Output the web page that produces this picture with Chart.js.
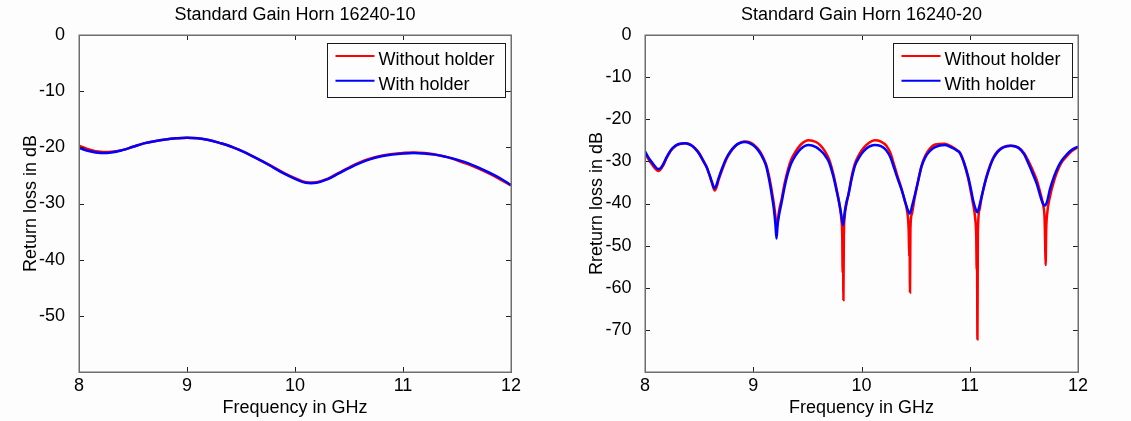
<!DOCTYPE html>
<html><head><meta charset="utf-8">
<script src="https://cdn.jsdelivr.net/npm/chart.js@4.4.1/dist/chart.umd.min.js"></script>
<style>
html,body{margin:0;padding:0;background:#fcfdfc;}
#wrap{position:relative;width:1131px;height:421px;overflow:hidden;background:#fcfdfc;}
.box{position:absolute;top:0;height:421px;}
#b1{left:0;width:565px;}
#b2{left:565px;width:566px;}
canvas{display:block;}
</style></head><body>
<div id="wrap">
<div class="box" id="b1"><canvas id="c1" width="565" height="421"></canvas></div>
<div class="box" id="b2"><canvas id="c2" width="566" height="421"></canvas></div>
</div>
<script>
// ---------- DATA ----------
const titleLeft = 'Standard Gain Horn 16240-10';
const titleRight = 'Standard Gain Horn 16240-20';
const xLabel = 'Frequency in GHz';
const yLabelLeft = 'Return loss in dB';
const yLabelRight = 'Rreturn loss in dB';
const seriesNames = ['Without holder', 'With holder'];

const freq10 = [8.0,8.1,8.2,8.3,8.4,8.5,8.6,8.7,8.8,8.9,9.0,9.1,9.2,9.3,9.4,9.5,9.6,9.7,9.8,9.9,10.0,10.1,10.2,10.3,10.4,10.5,10.6,10.7,10.8,10.9,11.0,11.1,11.2,11.3,11.4,11.5,11.6,11.7,11.8,11.9,12.0];
const without10 = [-19.7,-20.4,-20.8,-20.8,-20.5,-19.9,-19.3,-18.9,-18.6,-18.4,-18.3,-18.4,-18.7,-19.2,-19.8,-20.6,-21.5,-22.5,-23.5,-24.6,-25.5,-26.2,-26.2,-25.6,-24.6,-23.6,-22.7,-22.0,-21.5,-21.2,-21.0,-20.9,-21.0,-21.3,-21.7,-22.3,-23.0,-23.8,-24.7,-25.7,-26.8];
const with10 = [-20.1,-20.7,-21.0,-20.9,-20.5,-19.9,-19.3,-18.9,-18.6,-18.4,-18.3,-18.4,-18.7,-19.2,-19.8,-20.6,-21.5,-22.5,-23.6,-24.7,-25.6,-26.3,-26.3,-25.7,-24.7,-23.7,-22.8,-22.1,-21.6,-21.3,-21.1,-21.0,-21.1,-21.3,-21.7,-22.2,-22.8,-23.6,-24.5,-25.5,-26.7];

const freq20With = [8.00,8.03,8.06,8.09,8.12,8.14,8.17,8.20,8.24,8.28,8.32,8.37,8.42,8.46,8.50,8.54,8.57,8.60,8.62,8.64,8.66,8.68,8.71,8.75,8.79,8.83,8.87,8.92,8.97,9.02,9.06,9.09,9.12,9.15,9.17,9.19,9.205,9.215,9.225,9.24,9.26,9.29,9.32,9.35,9.39,9.44,9.51,9.58,9.62,9.66,9.70,9.74,9.77,9.80,9.815,9.83,9.845,9.86,9.88,9.91,9.94,9.98,10.02,10.07,10.12,10.18,10.23,10.27,10.30,10.33,10.37,10.40,10.42,10.446,10.47,10.49,10.52,10.555,10.59,10.63,10.68,10.77,10.84,10.88,10.91,10.95,10.985,11.01,11.03,11.05,11.07,11.09,11.11,11.15,11.19,11.22,11.26,11.31,11.38,11.45,11.50,11.54,11.58,11.62,11.645,11.665,11.68,11.695,11.715,11.74,11.78,11.82,11.855,11.895,11.94,12.00];
const rl20With = [-27.6,-29.0,-30.1,-31.1,-31.8,-31.7,-30.6,-29.0,-27.3,-26.3,-25.8,-25.7,-26.1,-26.9,-28.2,-30.0,-31.4,-33.5,-35.0,-36.4,-35.6,-34.0,-31.8,-29.3,-27.6,-26.4,-25.7,-25.4,-25.7,-26.6,-27.9,-29.3,-31.2,-34.8,-37.8,-41.2,-45.0,-48.3,-45.0,-42.5,-40.0,-36.0,-32.8,-30.5,-28.6,-27.0,-26.1,-26.6,-27.4,-28.5,-30.2,-33.6,-37.0,-40.7,-43.0,-45.1,-42.0,-39.8,-37.8,-34.0,-31.0,-29.0,-27.6,-26.5,-26.1,-26.4,-27.4,-29.2,-31.5,-33.8,-36.7,-39.3,-41.0,-42.4,-40.3,-38.3,-35.0,-31.2,-29.0,-27.6,-26.6,-26.1,-26.8,-27.4,-28.0,-30.5,-33.6,-36.5,-39.1,-41.0,-42.1,-40.5,-38.3,-34.2,-31.0,-29.2,-27.7,-26.7,-26.3,-26.8,-28.2,-30.4,-32.8,-35.4,-37.6,-39.3,-40.2,-40.5,-39.5,-36.7,-33.5,-31.1,-29.6,-28.4,-27.3,-26.5];

const freq20Without = [8.00,8.03,8.06,8.09,8.12,8.14,8.17,8.20,8.24,8.28,8.32,8.37,8.42,8.46,8.50,8.54,8.57,8.60,8.62,8.645,8.665,8.68,8.71,8.75,8.79,8.83,8.87,8.92,8.97,9.02,9.06,9.09,9.12,9.15,9.17,9.19,9.205,9.218,9.23,9.24,9.26,9.29,9.32,9.35,9.39,9.44,9.51,9.58,9.62,9.66,9.70,9.74,9.77,9.80,9.815,9.822,9.826,9.829,9.833,9.837,9.845,9.86,9.88,9.91,9.94,9.98,10.02,10.07,10.12,10.18,10.23,10.27,10.30,10.33,10.37,10.40,10.42,10.436,10.441,10.444,10.448,10.452,10.465,10.49,10.52,10.555,10.59,10.63,10.68,10.77,10.84,10.88,10.91,10.95,10.985,11.01,11.03,11.05,11.06,11.064,11.067,11.071,11.075,11.09,11.11,11.15,11.19,11.22,11.26,11.31,11.38,11.45,11.50,11.54,11.58,11.62,11.645,11.665,11.68,11.692,11.697,11.701,11.706,11.715,11.74,11.78,11.82,11.855,11.895,11.94,12.00];
const rl20Without = [-28.1,-29.4,-30.6,-31.6,-32.3,-32.0,-30.9,-29.2,-27.4,-26.4,-25.9,-25.7,-26.0,-26.8,-28.0,-29.9,-31.4,-33.6,-35.3,-36.9,-35.8,-34.4,-32.2,-29.6,-27.8,-26.5,-25.7,-25.3,-25.5,-26.4,-27.6,-29.0,-30.8,-34.0,-36.8,-40.0,-43.0,-45.8,-43.5,-41.5,-39.2,-35.2,-32.0,-29.6,-27.7,-26.0,-25.0,-25.4,-26.2,-27.5,-29.5,-33.0,-36.6,-40.8,-44.0,-47.5,-56.5,-48.0,-62.9,-48.0,-43.0,-40.3,-37.8,-33.5,-30.5,-28.3,-26.8,-25.6,-25.0,-25.3,-26.3,-28.2,-30.7,-33.3,-36.5,-39.4,-41.6,-46.5,-52.6,-47.0,-61.1,-46.0,-42.5,-38.8,-35.0,-31.0,-28.6,-27.0,-26.0,-25.8,-26.6,-27.3,-28.1,-30.7,-34.0,-37.2,-40.0,-43.5,-48.0,-55.7,-50.0,-72.2,-47.0,-41.5,-38.5,-34.0,-30.8,-29.0,-27.5,-26.6,-26.3,-26.7,-28.0,-29.8,-32.0,-34.5,-36.8,-38.8,-40.6,-44.0,-50.0,-54.6,-46.5,-42.5,-38.5,-34.5,-31.7,-30.0,-28.8,-27.6,-26.6];

const xMin = 8, xMax = 12, xStep = 1;
const yMinLeft = -60, yMinRight = -80, yMax = 0, yStep = 10;
const colorWithout = '#ff0000';
const colorWith = '#0000ff';

// ---------- CHART SETUP ----------
Chart.defaults.font.family = "'Liberation Sans', Arial, Helvetica, sans-serif";
Chart.defaults.color = '#000';

function pts(xs, ys) { return xs.map((x, i) => ({x: x, y: ys[i]})); }

const framePlugin = {
  id: 'matlabFrame',
  afterDatasetsDraw(chart) {
    const {ctx, chartArea: a, scales} = chart;
    const x = scales.x, y = scales.y;
    ctx.save();
    ctx.strokeStyle = '#222';
    ctx.lineWidth = 1;
    ctx.beginPath();
    const tl = 5;
    y.ticks.forEach(t => {
      const py = Math.round(y.getPixelForValue(t.value)) + 0.5;
      ctx.moveTo(a.left, py); ctx.lineTo(a.left + tl, py);
      ctx.moveTo(a.right, py); ctx.lineTo(a.right - tl, py);
    });
    x.ticks.forEach(t => {
      const px = Math.round(x.getPixelForValue(t.value)) + 0.5;
      ctx.moveTo(px, a.bottom); ctx.lineTo(px, a.bottom - tl);
      ctx.moveTo(px, a.top); ctx.lineTo(px, a.top + tl);
    });
    ctx.stroke();
    ctx.strokeStyle = '#6e6e6e';
    ctx.lineWidth = 1.5;
    ctx.strokeRect(Math.round(a.left) + 0.25, Math.round(a.top) + 0.25, Math.round(a.right) - Math.round(a.left), Math.round(a.bottom) - Math.round(a.top));
    // legend box inside the axes (top right)
    const lw = chart.options.plugins.matlabFrame.legendWidth;
    const lh = 54;
    const lx = Math.round(a.right - 6 - lw) + 0.5;
    const ly = Math.round(a.top + 8) + 0.5;
    ctx.fillStyle = '#fcfdfc';
    ctx.fillRect(lx, ly, lw, lh);
    ctx.strokeStyle = '#1a1a1a';
    ctx.lineWidth = 1;
    ctx.strokeRect(lx, ly, lw, lh);
    ctx.font = "18px 'Liberation Sans', Arial, sans-serif";
    ctx.textBaseline = 'alphabetic';
    ctx.textAlign = 'left';
    chart.data.datasets.forEach((ds, i) => {
      const rowY = ly + 12.5 + i * 24.7;
      ctx.strokeStyle = ds.borderColor;
      ctx.lineWidth = 2;
      ctx.beginPath();
      ctx.moveTo(lx + 8, rowY); ctx.lineTo(lx + 47, rowY);
      ctx.stroke();
      ctx.fillStyle = '#000';
      ctx.fillText(ds.label, lx + 51, rowY + 9);
    });
    ctx.restore();
  }
};

function makeChart(canvasId, cfg) {
  const lineOpts = cfg.smooth
    ? {tension: 0.4, cubicInterpolationMode: 'default'}
    : {cubicInterpolationMode: 'monotone'};
  return new Chart(document.getElementById(canvasId), {
    type: 'line',
    data: {
      datasets: [
        Object.assign({label: seriesNames[0], data: cfg.without, borderColor: colorWithout, backgroundColor: colorWithout, borderWidth: 2.5, pointRadius: 0, order: 2, fill: false}, lineOpts),
        Object.assign({label: seriesNames[1], data: cfg.with, borderColor: colorWith, backgroundColor: colorWith, borderWidth: 2.5, pointRadius: 0, order: 1, fill: false}, lineOpts)
      ]
    },
    options: {
      responsive: false,
      animation: false,
      devicePixelRatio: 1,
      layout: {padding: {left: 0, right: cfg.padRight, top: 0, bottom: 0}},
      plugins: {
        legend: {display: false},
        tooltip: {enabled: false},
        title: {display: true, text: cfg.title, fullSize: false, color: '#000',
                font: {size: 18, weight: 'normal'}, padding: {top: 4.7, bottom: 8.7}},
        matlabFrame: {legendWidth: cfg.legendWidth}
      },
      scales: {
        x: {
          type: 'linear', min: xMin, max: xMax,
          grid: {display: false, drawTicks: false},
          border: {display: false},
          ticks: {stepSize: xStep, padding: 3.7, color: '#000', font: {size: 18}, maxRotation: 0,
                  callback: v => String(v)},
          title: {display: true, text: xLabel, color: '#000', font: {size: 18}, padding: {top: 0, bottom: 2.2}},
          afterFit: s => { s.height = 49; }
        },
        y: {
          type: 'linear', min: cfg.yMin, max: yMax,
          grid: {display: false, drawTicks: false},
          border: {display: false},
          ticks: {stepSize: yStep, padding: cfg.yTickPad, color: '#000', font: {size: 18},
                  callback: v => (v === cfg.yMin ? '' : String(v))},
          title: {display: true, text: cfg.yLabel, color: '#000', font: {size: 18}, padding: {top: cfg.yTitlePad, bottom: 0}},
          afterFit: s => { s.width = cfg.yWidth; }
        }
      }
    },
    plugins: [framePlugin]
  });
}

makeChart('c1', {
  title: titleLeft, yLabel: yLabelLeft, yMin: yMinLeft, smooth: true,
  without: pts(freq10, without10), with: pts(freq10, with10),
  padRight: 54, yWidth: 79, yTickPad: 14, yTitlePad: 20.2, legendWidth: 178
});
makeChart('c2', {
  title: titleRight, yLabel: yLabelRight, yMin: yMinRight, smooth: false,
  without: pts(freq20Without, rl20Without), with: pts(freq20With, rl20With),
  padRight: 53, yWidth: 80, yTickPad: 13.6, yTitlePad: 21.2, legendWidth: 179
});
</script>
</body></html>
